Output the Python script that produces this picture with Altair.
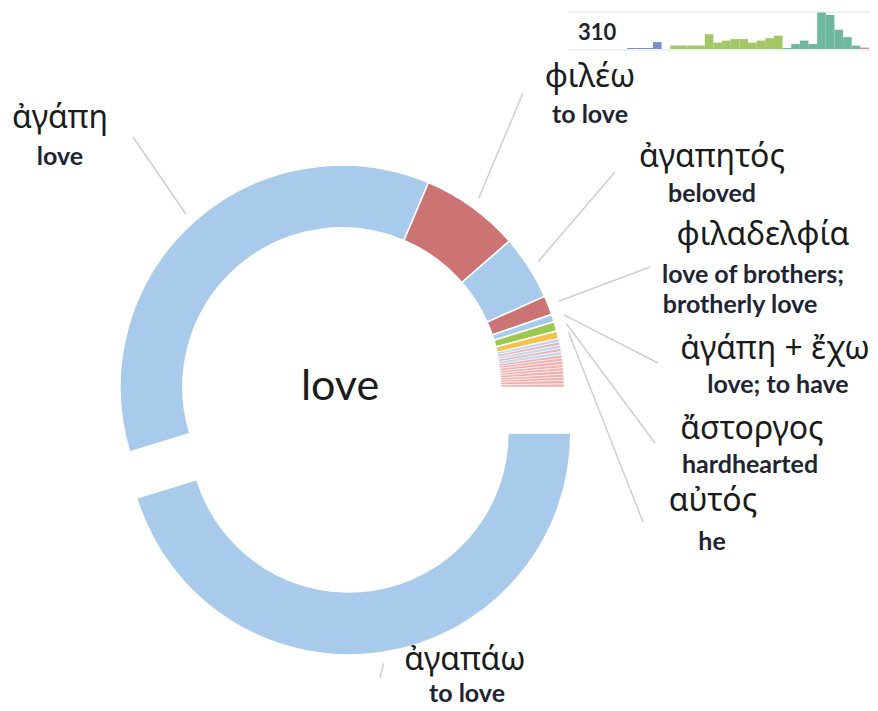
import math
import altair as alt
import pandas as pd

# ---------------- data ----------------
words = ["ἀγαπάω", "ἀγάπη", "φιλέω", "ἀγαπητός", "φιλαδελφία", "ἀγάπη + ἔχω", "ἄστοργος", "αὐτός",
         "s1", "s2", "s3", "s4", "s5", "s6", "s7", "s8", "s9", "s10", "s11", "s12", "s13", "s14", "s15"]
glosses = ["to love", "love", "to love", "beloved", "love of brothers;|brotherly love", "love; to have",
           "hardhearted", "he", "", "", "", "", "", "", "", "", "", "", "", "", "", "", ""]
shares = [163, 130, 26, 17, 5, 2, 2.5, 2,
          0.9, 0.8, 0.9, 0.8, 0.9, 0.8, 0.8, 0.9, 0.8, 0.8, 0.9, 0.8, 0.8, 0.9, 0.8]
colors = ["#a9cbeb", "#a9cbeb", "#cc7473", "#a9cbeb", "#cc7473", "#a9cbeb", "#9bc94e", "#f5c04c",
          "#bcd8f1", "#f0b0b0", "#bcd8f1", "#f0b0b0", "#bcd8f1", "#f0b0b0", "#f0b0b0", "#f0b0b0",
          "#f0b0b0", "#f0b0b0", "#f0b0b0", "#f0b0b0", "#f0b0b0", "#f0b0b0", "#f0b0b0"]
exploded = ["ἀγαπάω"]

center_word = "love"
inset_total = "310"
inset_values = [1, 1, 1, 7, 0,
                3.5, 3.5, 3.5, 3.5, 15, 6.5, 8.5, 10, 10, 6.5, 8.5, 11, 13.5,
                1, 5, 8.5, 5, 37, 34.5, 19.5, 12, 3.5,
                1.5]
inset_colors = ["#7b8fd0"] * 5 + ["#a3c766"] * 13 + ["#6fb89d"] * 9 + ["#d890c8"]

# ---------------- layout (pixels, not data) ----------------
W, H = 862, 699
CX, CY = 334, 379
R_IN, R_OUT = 159, 222
EXPLODE = 46.5
LEADER_R = 233
label_layout = {
    "ἀγάπη": dict(g=(52, 120), e=[(52, 157)], end=(125, 129)),
    "φιλέω": dict(g=(582, 79), e=[(582, 115)], end=(515, 85)),
    "ἀγαπητός": dict(g=(704, 159), e=[(704, 194)], end=(607, 164)),
    "φιλαδελφία": dict(g=(755, 237), e=[(745, 275), (732, 305)], end=(642, 259)),
    "ἀγάπη + ἔχω": dict(g=(767, 351), e=[(770, 385)], end=(650, 355)),
    "ἄστοργος": dict(g=(744, 431), e=[(742, 465)], end=(647, 435)),
    "αὐτός": dict(g=(705, 503), e=[(704, 542)], end=(635, 514)),
    "ἀγαπάω": dict(g=(457, 662), e=[(459, 694)], end=(372, 670)),
}

# ---------------- derived tables ----------------
df = pd.DataFrame({"word": words, "gloss": glosses, "share": shares, "color": colors})
df["end"] = df["share"].cumsum()
df["start"] = df["end"] - df["share"]
df["exploded"] = df["word"].isin(exploded).astype(int)
total = float(df["share"].sum())
START_ANGLE = math.pi / 2


def mid_angle(row):
    return START_ANGLE + 2 * math.pi * (row["start"] + row["end"]) / 2 / total


def offset(row):
    if row["exploded"]:
        a = mid_angle(row)
        return EXPLODE * math.sin(a), -EXPLODE * math.cos(a)
    return 0.0, 0.0


theta_scale = alt.Scale(domain=[0, total], range=[START_ANGLE, START_ANGLE + 2 * math.pi])

layers = []
for flag in (0, 1):
    sub = df[df["exploded"] == flag]
    ox, oy = offset(sub.iloc[0]) if flag else (0.0, 0.0)
    layers.append(
        alt.Chart(sub).mark_arc(innerRadius=R_IN, outerRadius=R_OUT, stroke="white")
        .encode(
            theta=alt.Theta("start:Q", scale=theta_scale, stack=None),
            theta2="end:Q",
            color=alt.Color("color:N", scale=None),
            strokeWidth=alt.condition(alt.datum.share < 1, alt.value(0.6), alt.value(1.6)),
            x=alt.value(CX + ox),
            y=alt.value(CY + oy),
        )
    )

# leader lines + labels
lead_rows, greek_rows, eng_rows = [], [], []
for _, row in df.iterrows():
    if row["word"] not in label_layout:
        continue
    lay = label_layout[row["word"]]
    a = mid_angle(row)
    ox, oy = offset(row)
    lead_rows.append(dict(x=CX + ox + LEADER_R * math.sin(a), y=CY + oy - LEADER_R * math.cos(a),
                          x2=lay["end"][0], y2=lay["end"][1]))
    greek_rows.append(dict(x=lay["g"][0], y=lay["g"][1], t=row["word"]))
    for (ex, ey), line in zip(lay["e"], row["gloss"].split("|")):
        eng_rows.append(dict(x=ex, y=ey, t=line))

leaders = alt.Chart(pd.DataFrame(lead_rows)).mark_rule(color="#cfcfcf", strokeWidth=1.5).encode(
    x=alt.X("x:Q", scale=None), y=alt.Y("y:Q", scale=None),
    x2="x2:Q", y2="y2:Q")

greek = alt.Chart(pd.DataFrame(greek_rows)).mark_text(
    font="Noto Sans", fontSize=32, color="#1b1b1b", align="center", baseline="alphabetic").encode(
    x=alt.X("x:Q", scale=None), y=alt.Y("y:Q", scale=None), text="t:N")

eng = alt.Chart(pd.DataFrame(eng_rows)).mark_text(
    font="Lato", fontSize=25, fontWeight="bold", color="#1f2433", align="center", baseline="alphabetic").encode(
    x=alt.X("x:Q", scale=None), y=alt.Y("y:Q", scale=None), text="t:N")

center = alt.Chart(pd.DataFrame({"t": [center_word]})).mark_text(
    font="Lato", fontSize=43, color="#1b1b1b", align="center", baseline="alphabetic").encode(
    x=alt.value(CX - 2), y=alt.value(CY + 13), text="t:N")

# inset histogram
ins = pd.DataFrame({"i": list(range(len(inset_values))), "v": inset_values, "c": inset_colors})
ins["i2"] = ins["i"] + 1
n = len(inset_values)
inset_bars = alt.Chart(ins).mark_bar().encode(
    x=alt.X("i:Q", scale=alt.Scale(domain=[0, n], range=[619, 861]), axis=None),
    x2="i2:Q",
    y=alt.Y("v:Q", scale=alt.Scale(domain=[0, 37.5], range=[41, 4]), axis=None),
    y2=alt.value(41),
    color=alt.Color("c:N", scale=None),
)
inset_frame = alt.Chart(pd.DataFrame({"yy": [4, 42]})).mark_rule(color="#e2e2e2", strokeWidth=1.2).encode(
    x=alt.value(560), x2=alt.value(870), y=alt.Y("yy:Q", scale=None))
inset_text = alt.Chart(pd.DataFrame({"t": [inset_total]})).mark_text(
    font="Lato", fontSize=22, fontWeight="bold", color="#1f2433", align="left", baseline="alphabetic").encode(
    x=alt.value(570), y=alt.value(32), text="t:N")

chart = alt.layer(*layers, leaders, greek, eng, center, inset_frame, inset_bars, inset_text).properties(
    width=W, height=H, padding=0, autosize=alt.AutoSizeParams(type="none")
).configure_view(stroke=None)

chart.save("out.html", embed_options={"renderer": "svg", "actions": False})
